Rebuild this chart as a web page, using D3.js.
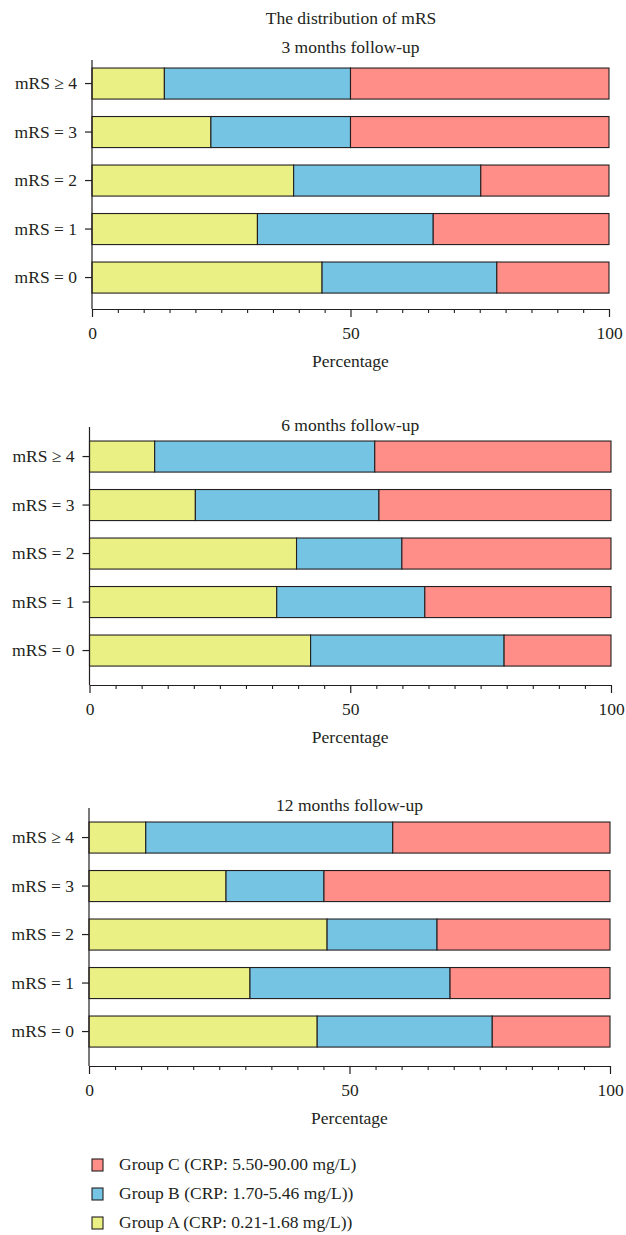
<!DOCTYPE html>
<html>
<head>
<meta charset="utf-8">
<script src="https://cdn.jsdelivr.net/npm/d3@7"></script>
<style>
  body { margin: 0; background: #fff; }
  text { font-family: "Liberation Serif", "DejaVu Serif", serif; fill: #231f20; }
</style>
</head>
<body>
<div id="chart"></div>
<script>
// data
const categories = ["mRS ≥ 4", "mRS = 3", "mRS = 2", "mRS = 1", "mRS = 0"];
const groups = ["A", "B", "C"];
const groupLabels = {
    C: "Group C (CRP: 5.50-90.00 mg/L)",
    B: "Group B (CRP: 1.70-5.46 mg/L))",
    A: "Group A (CRP: 0.21-1.68 mg/L))"
};
const panelTitles = ["3 months follow-up", "6 months follow-up", "12 months follow-up"];
const xTicks = [0, 50, 100];

// percentages per category (same order as categories)
const month3A = [14, 23, 39, 32, 44.5];
const month3B = [36, 27, 36.2, 34, 33.8];
const month3C = [50, 50, 24.8, 34, 21.7];

const month6A = [12.5, 20.3, 39.7, 35.9, 42.4];
const month6B = [42.2, 35.2, 20.2, 28.4, 37.1];
const month6C = [45.3, 44.5, 40.1, 35.7, 20.5];

const month12A = [10.9, 26.3, 45.7, 30.9, 43.8];
const month12B = [47.4, 18.8, 21.1, 38.4, 33.6];
const month12C = [41.7, 54.9, 33.2, 30.7, 22.6];

const colors = { A: "#ebf084", B: "#76c4e4", C: "#ff8d88" };

const width = 626, height = 1235;
const fontSize = 17.5;
const panels = [
    { a: month3A, b: month3B, c: month3C, band: 59.3, axisTop: 60, subY: 53, axisY: 309, x0: 92, x1: 609 },
    { a: month6A, b: month6B, c: month6C, band: 432.3, axisTop: 427, subY: 431, axisY: 685, x0: 89.5, x1: 611 },
    { a: month12A, b: month12B, c: month12C, band: 813.3, axisTop: 808, subY: 811, axisY: 1066, x0: 89, x1: 610 }
];

const svg = d3.select("#chart").append("svg")
    .attr("width", width)
    .attr("height", height);

// main title
svg.append("text")
    .attr("x", 351).attr("y", 24)
    .attr("text-anchor", "middle")
    .attr("font-size", fontSize)
    .text("The distribution of mRS");

const stack = d3.stack().keys(groups);

function styleTicks(sel) {
    sel.selectAll(".tick line").attr("stroke", "#231f20").attr("stroke-width", 1.2);
    sel.selectAll(".tick text")
        .attr("font-size", fontSize)
        .attr("font-family", "Liberation Serif, DejaVu Serif, serif")
        .attr("fill", "#231f20");
}

panels.forEach((p, i) => {
    const rows = categories.map((cat, j) => ({ cat: cat, A: p.a[j], B: p.b[j], C: p.c[j] }));
    const series = stack(rows);

    const xScale = d3.scaleLinear().domain([0, 100]).range([p.x0, p.x1]);
    const yScale = d3.scaleBand()
        .domain(categories)
        .range([p.band, p.band + 5 * 48.5])
        .paddingInner(0.36)
        .paddingOuter(0.18);

    const g = svg.append("g");

    // subtitle
    g.append("text")
        .attr("x", (p.x0 + p.x1) / 2)
        .attr("y", p.subY)
        .attr("text-anchor", "middle")
        .attr("font-size", fontSize)
        .text(panelTitles[i]);

    // bars
    g.selectAll("g.series")
        .data(series)
        .join("g")
        .attr("class", "series")
        .attr("fill", d => colors[d.key])
        .selectAll("rect")
        .data(d => d)
        .join("rect")
        .attr("x", d => xScale(d[0]))
        .attr("y", d => yScale(d.data.cat))
        .attr("width", d => xScale(d[1]) - xScale(d[0]))
        .attr("height", yScale.bandwidth())
        .attr("stroke", "#231f20")
        .attr("stroke-width", 1.1);

    // y axis
    const yAxis = d3.axisLeft(yScale).tickSize(7).tickPadding(8).tickSizeOuter(0);
    const gy = g.append("g")
        .attr("transform", `translate(${p.x0},0)`)
        .call(yAxis);
    gy.select(".domain").remove();
    gy.append("line")
        .attr("x1", 0).attr("x2", 0)
        .attr("y1", p.axisTop).attr("y2", p.axisY)
        .attr("stroke", "#231f20").attr("stroke-width", 1.2);
    styleTicks(gy);

    // x axis, minor ticks every 5
    const minorAxis = d3.axisBottom(xScale)
        .tickValues(d3.range(0, 101, 5).filter(v => v % 50 !== 0))
        .tickSize(4).tickFormat("");
    const gMinor = g.append("g")
        .attr("transform", `translate(0,${p.axisY})`)
        .call(minorAxis);
    gMinor.select(".domain").remove();
    gMinor.selectAll(".tick line").attr("stroke", "#231f20").attr("stroke-width", 1.1);

    const xAxis = d3.axisBottom(xScale).tickValues(xTicks).tickSize(8).tickSizeOuter(0).tickPadding(10);
    const gx = g.append("g")
        .attr("transform", `translate(0,${p.axisY})`)
        .call(xAxis);
    gx.select(".domain").attr("stroke", "#231f20").attr("stroke-width", 1.2);
    styleTicks(gx);

    g.append("text")
        .attr("x", (p.x0 + p.x1) / 2)
        .attr("y", p.axisY + 58)
        .attr("text-anchor", "middle")
        .attr("font-size", fontSize)
        .text("Percentage");
});

// legend
const legendKeys = ["C", "B", "A"];
const legend = svg.append("g")
    .selectAll("g")
    .data(legendKeys)
    .join("g")
    .attr("transform", (d, i) => `translate(92,${1159 + i * 29})`);

legend.append("rect")
    .attr("width", 11).attr("height", 12)
    .attr("fill", d => colors[d])
    .attr("stroke", "#231f20")
    .attr("stroke-width", 1.1);

legend.append("text")
    .attr("x", 27).attr("y", 11)
    .attr("font-size", fontSize)
    .text(d => groupLabels[d]);
</script>
</body>
</html>
